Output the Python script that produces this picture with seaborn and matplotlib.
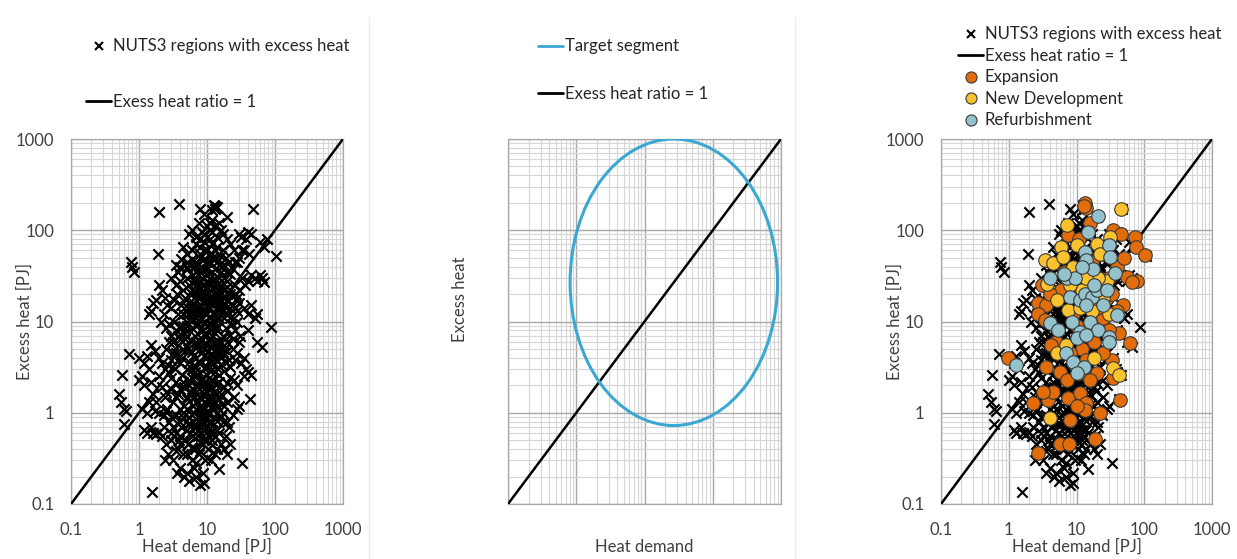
import numpy as np
import pandas as pd
import matplotlib
matplotlib.use("Agg")
import matplotlib.pyplot as plt
import seaborn as sns
from matplotlib.lines import Line2D
from matplotlib.patches import Ellipse
from matplotlib.ticker import FixedLocator, NullFormatter, FixedFormatter, LogLocator

# --------------------------
# Data
# --------------------------
nuts3_demand = [
    13, 13.5, 12.5, 14, 13, 12, 8, 9, 7.5, 6, 5.5, 8.5, 10, 11, 12, 15, 16, 17, 20, 22, 25, 30, 32, 40, 38, 35, 45, 30, 28,
    6, 5, 4.5, 7, 9, 11, 12, 13, 14, 15, 10, 8, 7, 6.5, 5, 4, 4.2, 3.5, 3.8, 16, 18, 20, 24, 26, 33, 42, 60, 70, 75, 105,
    47, 20, 2, 3.9, 1.9, 0.75, 0.78, 0.85,
    3, 3.5, 4, 4.5, 5, 5.5, 6, 6.5, 7, 7.5, 8, 8.5, 9, 9.5, 10, 10.5, 11, 11.5, 12, 13, 14, 15, 16, 17, 18, 20, 22, 24,
    26, 28, 30, 33, 36, 40, 45, 50, 55, 60, 65, 70, 2.2, 2.4, 2.6, 2.0, 1.8, 1.6, 1.5, 1.4, 2.3, 2.1, 3, 3.3, 3.7, 4.2,
    4.8, 5.2, 5.8, 6.3, 6.8, 7.3, 7.8, 8.3, 8.8, 9.3, 9.8, 10.5, 11, 12, 13, 14, 15, 16, 18, 20, 22, 25, 28, 30, 35, 40,
    45, 50, 55, 2.5, 2.8,
    2.5, 2.8, 3, 3.2, 3.5, 3.8, 4, 4.3, 4.6, 5, 5.3, 5.6, 6, 6.3, 6.6, 7, 7.4, 7.8, 8.2, 8.6, 9, 9.5, 10, 10.5, 11, 11.5,
    12, 12.5, 13, 13.5, 14, 15, 16, 17, 18, 19, 20, 21, 22, 24, 26, 28, 30, 32, 35, 38, 40, 45, 50, 55, 65, 88, 1.5, 1.7,
    1.3, 1.2, 1.4, 1.1, 2, 2.2, 2.4, 2.7, 3, 3.4, 0.72, 1.0, 0.57, 1.0,
    1.2, 1.5, 1.6, 1.8, 2, 2.2, 2.4, 2.6, 2.8, 3, 3.2, 3.5, 3.8, 4, 4.3, 4.6, 5, 5.4, 5.8, 6.2, 6.6, 7, 7.5, 8, 8.5, 9,
    9.5, 10, 11, 12, 13, 14, 15, 16, 18, 20, 22, 25, 28, 30, 35, 43, 40, 0.5, 0.55, 0.6, 0.65, 0.6, 1.1, 1.3, 1.4, 1.7,
    2, 2.3, 2.5, 3, 3.5, 4.5, 5.5, 6.5, 7.5, 9, 11, 12.5, 17, 24, 28,
    1.2, 1.3, 1.5, 1.6, 1.8, 2, 2.2, 2.3, 2.5, 2.7, 3, 3.2, 3.5, 3.8, 4, 4.2, 4.5, 4.8, 5, 5.3, 5.6, 6, 6.3, 6.6, 7, 7.3,
    7.6, 8, 8.3, 8.6, 9, 9.4, 9.8, 10.5, 11, 11.5, 12, 13, 14, 15, 16, 17, 18, 19, 20, 21, 22, 33, 1.55, 2.4, 3.6, 4.6,
    5.5, 6.5, 8.8, 12.5, 7.8, 5.2, 2.8, 3.2,
]
nuts3_excess = [
    185, 175, 190, 180, 170, 165, 170, 150, 120, 100, 90, 95, 110, 100, 130, 120, 100, 90, 80, 70, 60, 90, 85, 95, 80, 60,
    90, 50, 45, 60, 55, 65, 70, 60, 55, 50, 60, 45, 55, 45, 50, 45, 40, 45, 40, 48, 42, 35, 40, 42, 35, 38, 45, 60, 55,
    75, 65, 80, 52, 170, 140, 160, 195, 55, 45, 40, 35,
    30, 25, 28, 22, 30, 25, 20, 28, 35, 22, 18, 30, 25, 20, 32, 27, 22, 18, 28, 24, 20, 30, 25, 18, 22, 28, 20, 15, 25,
    18, 22, 30, 25, 28, 32, 30, 28, 32, 30, 27, 22, 18, 15, 25, 17, 16, 13, 12, 12, 10, 14, 17, 12, 15, 18, 12, 14, 16,
    11, 13, 15, 11, 13, 16, 12, 14, 11, 16, 12, 14, 11, 13, 15, 12, 14, 11, 13, 16, 14, 12, 15, 11, 12, 8.5, 9.5,
    5, 6, 7, 4.5, 8, 5.5, 6.5, 4, 7.5, 9, 5, 6.2, 8.5, 4.2, 7, 5.5, 9.5, 6, 4.5, 8, 5, 7, 9, 4.8, 6.5, 8, 5.2, 3.5, 7.5,
    4.5, 9, 6, 4, 7, 5, 8.5, 6, 3.8, 7.2, 5, 8, 4.5, 6, 3.5, 4, 3, 8, 2.6, 11, 6, 5.3, 8.8, 5.5, 4.8, 4.2, 3.5, 3, 2.5, 4,
    3.5, 3, 3.3, 3.8, 3, 4.4, 4, 2.6, 2.3,
    2.0, 2.2, 1.6, 1.3, 2.5, 1.9, 1.5, 1.1, 2.7, 1.8, 1.3, 2.2, 1.6, 1.1, 2.6, 1.9, 1.4, 2.3, 1.7, 1.2, 2.8, 2, 1.5, 1.1,
    2.4, 1.8, 1.3, 2.6, 2, 1.5, 2.8, 1.2, 2.2, 1.6, 1.9, 1.3, 2.4, 1.5, 2, 1.2, 2.5, 1.4, 2.8, 1.6, 1.3, 1.1, 1.05, 0.75,
    1.1, 1.0, 1.3, 1.05, 1.0, 0.95, 1.05, 0.9, 0.95, 1.0, 0.9, 1.0, 0.92, 0.95, 1.0, 0.9, 1.0, 0.95, 1.1,
    0.65, 0.6, 0.7, 0.6, 0.58, 0.62, 0.55, 0.7, 0.45, 0.35, 0.5, 0.3, 0.6, 0.4, 0.25, 0.7, 0.35, 0.5, 0.22, 0.45, 0.6,
    0.3, 0.8, 0.4, 0.2, 0.55, 0.35, 0.16, 0.7, 0.45, 0.17, 0.3, 0.6, 0.4, 0.8, 0.3, 0.5, 0.35, 0.65, 0.24, 0.45, 0.8, 0.4,
    0.55, 0.35, 0.7, 0.45, 0.28, 0.135, 0.3, 0.22, 0.2, 0.18, 0.25, 0.22, 0.75, 0.85, 0.75, 0.8, 0.7,
]

# the dense core of the cloud
core_demand = [
    6, 7, 8, 9, 10, 11, 12, 9, 10, 8, 7, 6, 11, 12, 13, 14, 15, 16, 18, 20, 10, 9, 8, 7, 6, 11, 12, 13, 14, 10, 9, 8, 7,
    6, 5, 4, 4.5, 5.5, 6.5, 8, 10, 11, 12, 13, 9, 8, 7, 6, 5, 10, 12, 11, 9, 8, 10, 9, 8, 7, 6, 5, 4, 10, 11, 12, 13, 14, 15,
    5, 5.5, 6, 6.5, 7, 7.5, 8, 8.5, 9, 9.5, 10, 10.5, 11, 11.5, 12, 12.5, 13, 13.5, 14, 15, 4, 4.5, 3.5, 3, 2.5,
    5, 5.5, 6, 6.5, 7, 7.5, 8, 8.5, 9, 9.5, 10, 10.5, 11, 11.5, 12, 12.5, 13, 13.5, 14, 15, 16, 17, 18, 19, 20, 22, 24, 26,
    5, 6, 7, 8, 9, 10, 11, 12, 13, 14, 15, 16, 17, 18, 19, 20, 22, 24, 26, 28,
    6, 7, 8, 9, 10, 11, 12, 13, 14, 15, 16, 18, 20, 22,
    5, 6, 7, 8, 9, 10, 11, 12, 13, 14, 15, 16, 17, 19, 21, 8, 9, 10, 11, 12, 14, 13, 7,
    4, 4.5, 3.5, 3.2, 3.8, 4.2, 5,
    4, 4.5, 5, 5.5, 6, 6.5, 7, 7.5, 8, 8.5, 9, 9.5, 10, 11, 12, 13, 14, 16, 18, 20, 5, 6, 7, 8, 9, 10, 3, 3.5, 4,
    3.3, 3.6, 4.4, 5.2, 4.8, 6.8, 7.7, 9.2, 10.8, 12.2, 14.5, 17.5, 23, 27, 31, 4.6, 5.8, 7.2, 8.8, 11.5, 13.8, 16.5,
    19.5, 25, 3.9, 5.3, 6.2, 7.9, 9.7, 11.8,
]
core_excess = [
    3, 4, 3.5, 4.2, 3.2, 3.8, 4.4, 2.2, 1.7, 2.7, 3.2, 2.4, 2.9, 2.3, 3.9, 3.1, 2.6, 3.4, 2.9, 2.1, 12, 10, 11, 9, 10.5,
    9.5, 10.5, 9.8, 11, 15, 17, 20, 25, 12, 10, 9, 12, 16, 18, 23, 24, 30, 35, 38, 38, 35, 28, 32, 38, 60, 70, 80, 75, 65,
    0.7, 0.8, 0.6, 0.7, 0.55, 0.65, 0.55, 0.5, 0.6, 0.65, 0.55, 0.4, 0.6,
    1.5, 2, 1.8, 1.5, 1.3, 1.8, 2.2, 1.4, 1.6, 2.1, 1.4, 1.8, 1.3, 2.3, 1.1, 1.7, 1.3, 2.0, 1.6, 1.4, 1.8, 2.2, 1.5, 2.4, 1.7,
    3, 3.6, 4.6, 3.3, 6, 3.7, 5, 6.5, 3.1, 5.6, 4.1, 6.2, 3.5, 5.3, 7, 4.7, 6, 8.2, 5.1, 4.5, 5.8, 4.6, 6.8, 3.6, 4.8, 3.2,
    6.5, 3.8,
    13, 15, 12, 14, 13, 17, 14, 19, 16, 18, 14, 17, 22, 11, 14, 17, 11, 19, 14, 10,
    22, 19, 27, 21, 20, 26, 23, 29, 26, 22, 35, 30, 24, 33,
    40, 48, 42, 55, 48, 38, 45, 55, 48, 65, 42, 52, 60, 50, 45, 80, 90, 85, 120, 95, 85, 110, 85,
    3.5, 5, 4.5, 6, 7, 8.5, 7,
    0.8, 0.9, 1.1, 0.75, 0.95, 0.7, 1.1, 0.65, 0.95, 0.75, 1.1, 0.85, 1.0, 0.75, 1.2, 0.85, 1.0, 0.9, 1.2, 0.8, 0.35,
    0.42, 0.28, 0.38, 0.5, 0.32, 0.6, 0.38, 0.45,
    10, 20, 9, 14, 6.5, 2.5, 12.5, 7.5, 26, 9, 16, 5.5, 9.5, 20, 7, 1.2, 1.6, 1.9, 1.15, 1.45, 2.1, 1.25, 1.75, 2.3,
    0.5, 0.45, 0.4, 0.48, 0.52, 0.44,
]

expansion_demand = [
    13.3, 14, 13, 15.8, 7.6, 35, 46, 73, 75, 104, 39, 55, 78, 65, 3.06, 2.7, 3.6, 2.7, 3.4, 49, 42, 61, 33, 35, 44, 22,
    18.6, 5.7, 7.8, 2.7, 8.0, 2.3, 3.84, 4.5, 7.6, 11.2, 14, 13.3, 0.98, 3.6, 5.7, 7.2, 11.2, 20, 16, 3.2, 10, 6, 9, 12,
    18, 25, 28, 22, 17, 11, 25, 30, 5, 8, 14, 25, 4.2, 10, 20, 33, 40, 6.5, 4, 30, 50,
]
expansion_excess = [
    197, 174, 185, 119, 89, 100, 92, 85, 66, 54, 40, 31, 28, 27, 25, 16, 15, 12, 10.4, 15, 7.5, 5.8, 3.8, 2.4, 1.38,
    0.99, 0.52, 0.46, 0.45, 0.36, 0.83, 1.27, 1.38, 1.7, 1.44, 1.63, 1.27, 1.07, 4.0, 3.2, 2.8, 2.3, 2.7, 2.7, 2.3, 1.7,
    1.2, 22, 12, 5, 6, 11, 18, 25, 45, 80, 55, 30, 6, 4.5, 3.8, 4.5, 5.5, 9, 14, 20, 13, 35, 20, 8, 50,
]

newdev_demand = [
    45, 7.3, 31, 10.1, 6.0, 3.4, 4.5, 6.4, 5.1, 7.6, 11.2, 20, 28, 21, 17, 5.1, 18, 35, 42, 4.0, 7, 3.7, 9, 12, 25, 14,
    8, 30, 16, 22,
]
newdev_excess = [
    170, 114, 85, 69, 66, 47, 44, 51, 17, 13.4, 14, 70, 28, 30, 13, 4.5, 4.0, 3.1, 2.6, 0.87, 5.5, 26, 40, 22, 18, 30,
    25, 12, 8, 55,
]

refurb_demand = [
    21, 14.9, 30, 31, 13.3, 14, 17.7, 37, 4.1, 7.2, 9.5, 8.0, 11.2, 13.3, 16.7, 20, 14, 4.0, 5.4, 8.5, 11.2, 15.8, 21,
    30, 39, 1.3, 7, 9, 13, 10, 28, 25, 10, 14, 30, 6.5, 12, 18,
]
refurb_excess = [
    143, 96, 69, 51, 58, 47, 38, 34, 30, 30, 30, 18.7, 17, 20, 18.7, 22, 15, 9.6, 8.1, 10, 7.7, 10, 8.1, 6.8, 11.7, 3.3,
    4.5, 3.6, 3.2, 2.7, 22, 15, 6.6, 7.2, 5.9, 33, 40, 25,
]

ratio_line = [0.1, 1000]
tick_vals = [0.1, 1, 10, 100, 1000]
tick_labels = ["0.1", "1", "10", "100", "1000"]

# target segment ellipse in decades (log10 units)
target_center = (1.43, 1.43)
target_width = 3.04
target_height = 3.14

# --------------------------
# Style
# --------------------------
sns.set_style("white")
plt.rcParams["font.family"] = ["Lato", "DejaVu Sans"]

TXT = "#404040"
C_EXP = "#E36C0A"
C_NEW = "#F9C22E"
C_REF = "#93C1CC"
MAJOR = "#a8a8a8"
MINOR = "#d6d6d6"
FS = 12

all_demand = nuts3_demand + core_demand
all_excess = nuts3_excess + core_excess

fig = plt.figure(figsize=(12.37, 5.59), dpi=100)
ax1 = fig.add_axes([71 / 1237, 55 / 559, 272 / 1237, 365 / 559])
ax2 = fig.add_axes([508 / 1237, 55 / 559, 273 / 1237, 365 / 559])
ax3 = fig.add_axes([941 / 1237, 55 / 559, 271 / 1237, 365 / 559])


def style_log_axes(ax):
    ax.set_xscale("log")
    ax.set_yscale("log")
    ax.set_xlim(0.1, 1000)
    ax.set_ylim(0.1, 1000)
    for axis in (ax.xaxis, ax.yaxis):
        axis.set_major_locator(FixedLocator(tick_vals))
        axis.set_major_formatter(FixedFormatter(tick_labels))
        axis.set_minor_locator(LogLocator(base=10, subs=np.arange(2, 10)))
        axis.set_minor_formatter(NullFormatter())
    ax.grid(True, which="minor", color=MINOR, lw=0.8)
    ax.grid(True, which="major", color=MAJOR, lw=1.0)
    ax.set_axisbelow(True)
    ax.tick_params(which="both", length=0, labelsize=FS, labelcolor=TXT)
    ax.tick_params(axis="x", pad=13)
    ax.tick_params(axis="y", pad=12)
    for sp in ax.spines.values():
        sp.set_color(MAJOR)
        sp.set_linewidth(0.9)
    ax.set_xlabel("Heat demand [PJ]", fontsize=FS, color=TXT)
    ax.set_ylabel("Excess heat [PJ]", fontsize=FS, color=TXT)
    ax.xaxis.set_label_coords(0.5, -0.095)
    ax.yaxis.set_label_coords(-0.14, 0.5)


# --------------------------
# Left panel
# --------------------------
style_log_axes(ax1)
sns.scatterplot(x=all_demand, y=all_excess, marker="x", color="black", s=55, linewidth=1.55, ax=ax1, zorder=3)
sns.lineplot(x=ratio_line, y=ratio_line, color="black", lw=1.8, ax=ax1, zorder=4)
h_x = Line2D([], [], marker="x", color="black", ls="none", markersize=6, markeredgewidth=1.5)
h_l = Line2D([], [], color="black", lw=2)
ax1.legend([h_x, h_l], ["NUTS3 regions with excess heat", "Exess heat ratio = 1"],
           loc="upper left", bbox_to_anchor=(78 / 1237, 1 - 30 / 559), bbox_transform=fig.transFigure,
           frameon=False, fontsize=FS, labelspacing=2.35, handlelength=1.5, handletextpad=0.1,
           labelcolor="#262626", borderpad=0)

# --------------------------
# Middle panel (conceptual)
# --------------------------
ax2.set_xlim(-1, 3)
ax2.set_ylim(-1, 3)
minor_pos = [d + np.log10(k) for d in range(-1, 3) for k in range(2, 10)]
for axis in (ax2.xaxis, ax2.yaxis):
    axis.set_major_locator(FixedLocator([-1, 0, 1, 2, 3]))
    axis.set_minor_locator(FixedLocator(minor_pos))
    axis.set_major_formatter(NullFormatter())
ax2.grid(True, which="minor", color=MINOR, lw=0.8)
ax2.grid(True, which="major", color=MAJOR, lw=1.0)
ax2.set_axisbelow(True)
ax2.tick_params(which="major", length=4, color=MAJOR, direction="out")
ax2.tick_params(which="minor", length=0)
for sp in ax2.spines.values():
    sp.set_color(MAJOR)
    sp.set_linewidth(0.9)
sns.lineplot(x=np.log10(ratio_line), y=np.log10(ratio_line), color="black", lw=1.8, ax=ax2, zorder=4)
ax2.add_patch(Ellipse(target_center, target_width, target_height, fill=False, ec="#3AA8D2", lw=2.2, zorder=5))
ax2.set_xlabel("Heat demand", fontsize=FS, color=TXT)
ax2.set_ylabel("Excess heat", fontsize=FS, color=TXT)
ax2.xaxis.set_label_coords(0.5, -0.095)
ax2.yaxis.set_label_coords(-0.145, 0.56)
h_t = Line2D([], [], color="#3AA8D2", lw=2)
ax2.legend([h_t, h_l], ["Target segment", "Exess heat ratio = 1"],
           loc="upper left", bbox_to_anchor=(530 / 1237, 1 - 30 / 559), bbox_transform=fig.transFigure,
           frameon=False, fontsize=FS, labelspacing=1.9, handlelength=1.5, handletextpad=0.1,
           labelcolor="#262626", borderpad=0)

# --------------------------
# Right panel
# --------------------------
style_log_axes(ax3)
sns.scatterplot(x=all_demand, y=all_excess, marker="x", color="black", s=55, linewidth=1.55, ax=ax3, zorder=3)
sns.lineplot(x=ratio_line, y=ratio_line, color="black", lw=1.8, ax=ax3, zorder=4)
for xs, ys, col in [(expansion_demand, expansion_excess, C_EXP),
                    (newdev_demand, newdev_excess, C_NEW),
                    (refurb_demand, refurb_excess, C_REF)]:
    sns.scatterplot(x=xs, y=ys, color=col, s=95, edgecolor="#3a3a3a", linewidth=0.8, ax=ax3, zorder=5)


def circ(col):
    return Line2D([], [], marker="o", color=col, markeredgecolor="#3a3a3a", markeredgewidth=0.8,
                  ls="none", markersize=8)


ax3.legend([h_x, h_l, circ(C_EXP), circ(C_NEW), circ(C_REF)],
           ["NUTS3 regions with excess heat", "Exess heat ratio = 1", "Expansion", "New Development", "Refurbishment"],
           loc="upper left", bbox_to_anchor=(950 / 1237, 1 - 18 / 559), bbox_transform=fig.transFigure,
           frameon=False, fontsize=FS, labelspacing=0.33, handlelength=1.5, handletextpad=0.1,
           labelcolor="#262626", borderpad=0)

# faint panel separators
for xs in (369, 795):
    fig.add_artist(Line2D([xs / 1237, xs / 1237], [0, 0.97], color="#ececec", lw=1))

fig.savefig("out.png", dpi=100)
